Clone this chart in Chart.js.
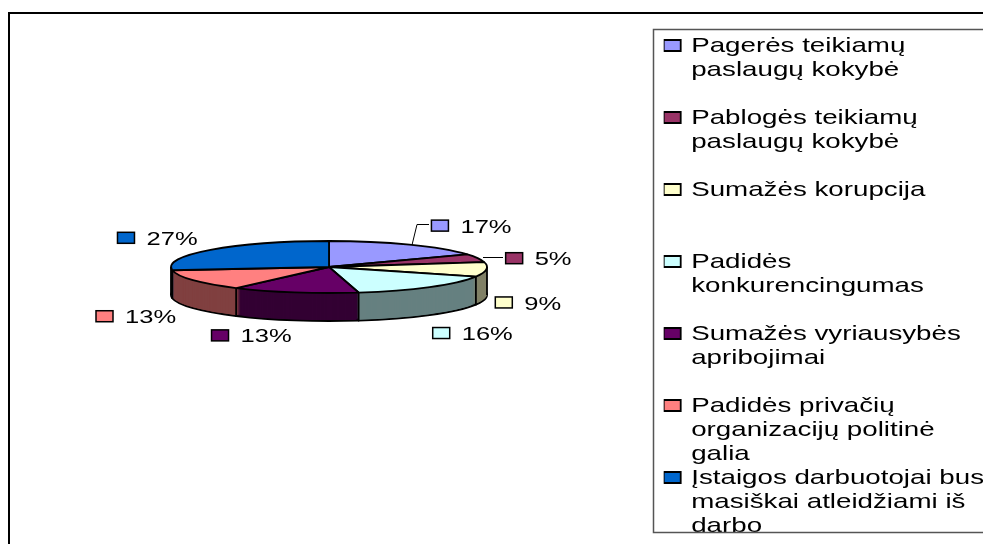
<!DOCTYPE html>
<html>
<head>
<meta charset="utf-8">
<style>
  html, body { margin: 0; padding: 0; background: #fff; overflow: hidden; }
  canvas { display: block; }
</style>
<script src="https://cdn.jsdelivr.net/npm/chart.js@4"></script>
</head>
<body>
<canvas id="chart" width="983" height="544"></canvas>
<script>
// Each legend entry is padded to 3 lines so the rows stay evenly spaced
const categories = [
    ["Pagerės teikiamų", "paslaugų kokybė", ""],
    ["Pablogės teikiamų", "paslaugų kokybė", ""],
    ["Sumažės korupcija", "", ""],
    ["Padidės", "konkurencingumas", ""],
    ["Sumažės vyriausybės", "apribojimai", ""],
    ["Padidės privačių", "organizacijų politinė", "galia"],
    ["Įstaigos darbuotojai bus", "masiškai atleidžiami iš", "darbo"]
];
const values = [17, 5, 9, 16, 13, 13, 27];
const topColors = ["#9999FF", "#993366", "#FFFFCC", "#CCFFFF", "#660066", "#FF8080", "#0066CC"];
const sideColors = ["#4D4D80", "#4D1A33", "#808066", "#668080", "#330033", "#804040", "#003366"];

// Where the pie sits and how flat it is
const pieX = 329, pieY = 267, pieRadius = 158;
const squash = 26 / 158, depth = 28;

// Value label position (swatch left, swatch middle), relative to the slice's rim midpoint
const labelOffsets = [[22, -19], [28, 0], [9, 33], [3, 46], [-83, 43], [-97, 36], [-93, -12]];
const fontName = "'Liberation Sans', Arial, sans-serif";

// The text in the picture is wider than the font, so it gets stretched sideways
const legendStretch = 1.32, labelStretch = 1.38;

function stretchedText(ctx, draw, text, x, y, stretch) {
    ctx.save();
    ctx.translate(x, y);
    ctx.scale(stretch, 1);
    draw.call(ctx, text, 0, 0);
    ctx.restore();
}

function pieTransform(ctx, el, dy) {
    ctx.translate(pieX, pieY + dy);
    ctx.scale(1, squash);
    ctx.translate(-el.x, -el.y);
}

function flatOptions(color, borderWidth) {
    return {
        backgroundColor: color, borderColor: "#000", borderWidth: borderWidth, borderAlign: "center",
        borderJoinStyle: "round", borderDash: [], borderDashOffset: 0, borderRadius: 0,
        circular: true, offset: 0, spacing: 0
    };
}

// Draw strokes at an even width even though the path was built in squashed space
function evenStroke(ctx) {
    const stroke = ctx.stroke;
    ctx.stroke = function () {
        ctx.save();
        ctx.setTransform(1, 0, 0, 1, 0, 0);
        stroke.call(ctx);
        ctx.restore();
    };
}

const pie3d = {
    id: "pie3d",
    beforeLayout(chart) {
        // The legend box has to know about the wider text or it clips it
        const ctx = chart.ctx;
        const measureText = CanvasRenderingContext2D.prototype.measureText;
        ctx.measureText = function (text) {
            return { width: measureText.call(ctx, text).width * legendStretch };
        };
    },
    afterLayout(chart) {
        delete chart.ctx.measureText;
    },
    beforeDraw(chart) {
        const ctx = chart.ctx;
        ctx.save();
        ctx.strokeStyle = "#000";
        ctx.lineWidth = 2;
        ctx.beginPath();
        ctx.moveTo(9, 546);
        ctx.lineTo(9, 13);
        ctx.lineTo(985, 13);
        ctx.stroke();
        ctx.restore();

        // Legend text goes through here while the legend box draws
        const fillText = CanvasRenderingContext2D.prototype.fillText;
        ctx.fillText = function (text, x, y) {
            stretchedText(ctx, fillText, text, x, y + 1, legendStretch);
        };
    },
    beforeDatasetsDraw(chart) {
        const ctx = chart.ctx;
        const arcs = chart.getDatasetMeta(0).data;
        evenStroke(ctx);

        // Side wall: stack the slices from the bottom up in the darker colours
        for (let d = depth; d >= 1; d--) {
            arcs.forEach((el, i) => {
                const saved = el.options;
                el.options = flatOptions(sideColors[i], d === depth ? 1.8 : 0);
                ctx.save();
                pieTransform(ctx, el, d);
                el.draw(ctx);
                ctx.restore();
                el.options = saved;
            });
        }

        // Vertical edges on the front half
        const r = arcs[0].outerRadius;
        const edges = [0, Math.PI].concat(arcs.map(el => el.endAngle).filter(a => Math.sin(a) > 0));
        ctx.save();
        ctx.strokeStyle = "#000";
        ctx.lineWidth = 1.8;
        edges.forEach(a => {
            const x = pieX + r * Math.cos(a);
            const y = pieY + r * squash * Math.sin(a);
            ctx.beginPath();
            ctx.moveTo(x, y);
            ctx.lineTo(x, y + depth);
            ctx.stroke();
        });
        ctx.restore();

        // Top face is then drawn by the chart itself, squashed
        ctx.save();
        pieTransform(ctx, arcs[0], 0);
    },
    afterDatasetsDraw(chart) {
        chart.ctx.restore();
        delete chart.ctx.stroke;
    },
    afterDraw(chart) {
        const ctx = chart.ctx;
        const arcs = chart.getDatasetMeta(0).data;
        delete ctx.fillText;
        ctx.save();

        // Legend frame
        ctx.strokeStyle = "#555";
        ctx.lineWidth = 1.5;
        ctx.strokeRect(653.5, 29.5, 340, 503);

        // Leader lines of the two slices at the back
        ctx.strokeStyle = "#000";
        ctx.lineWidth = 1;
        ctx.beginPath();
        ctx.moveTo(412, 245);
        ctx.lineTo(417, 224.5);
        ctx.lineTo(429, 224.5);
        ctx.moveTo(483, 257.5);
        ctx.lineTo(503, 257.5);
        ctx.stroke();

        // Value labels
        ctx.font = "18.5px " + fontName;
        ctx.textBaseline = "middle";
        arcs.forEach((el, i) => {
            const mid = (el.startAngle + el.endAngle) / 2;
            const x = pieX + el.outerRadius * Math.cos(mid) + labelOffsets[i][0];
            const y = pieY + el.outerRadius * squash * Math.sin(mid) + labelOffsets[i][1];
            ctx.fillStyle = topColors[i];
            ctx.strokeStyle = "#000";
            ctx.lineWidth = 1.5;
            ctx.fillRect(x, y - 5.5, 17, 11);
            ctx.strokeRect(x, y - 5.5, 17, 11);
            ctx.fillStyle = "#000";
            stretchedText(ctx, ctx.fillText, values[i] + "%", x + 29, y + 2, labelStretch);
        });
        ctx.restore();
    }
};

new Chart(document.getElementById("chart"), {
    type: "pie",
    data: {
        labels: categories,
        datasets: [{
            data: values,
            backgroundColor: topColors,
            borderColor: "#000",
            borderWidth: 1.8,
            radius: pieRadius
        }]
    },
    plugins: [pie3d],
    options: {
        responsive: false,
        animation: false,
        events: [],
        layout: { padding: { top: 35, right: -11, bottom: 0, left: 0 } },
        plugins: {
            tooltip: { enabled: false },
            legend: {
                position: "right",
                align: "start",
                labels: {
                    boxWidth: 17,
                    boxHeight: 11,
                    padding: 0,
                    color: "#000",
                    font: { family: fontName, size: 21, lineHeight: "24px" }
                }
            }
        }
    }
});
</script>
</body>
</html>
